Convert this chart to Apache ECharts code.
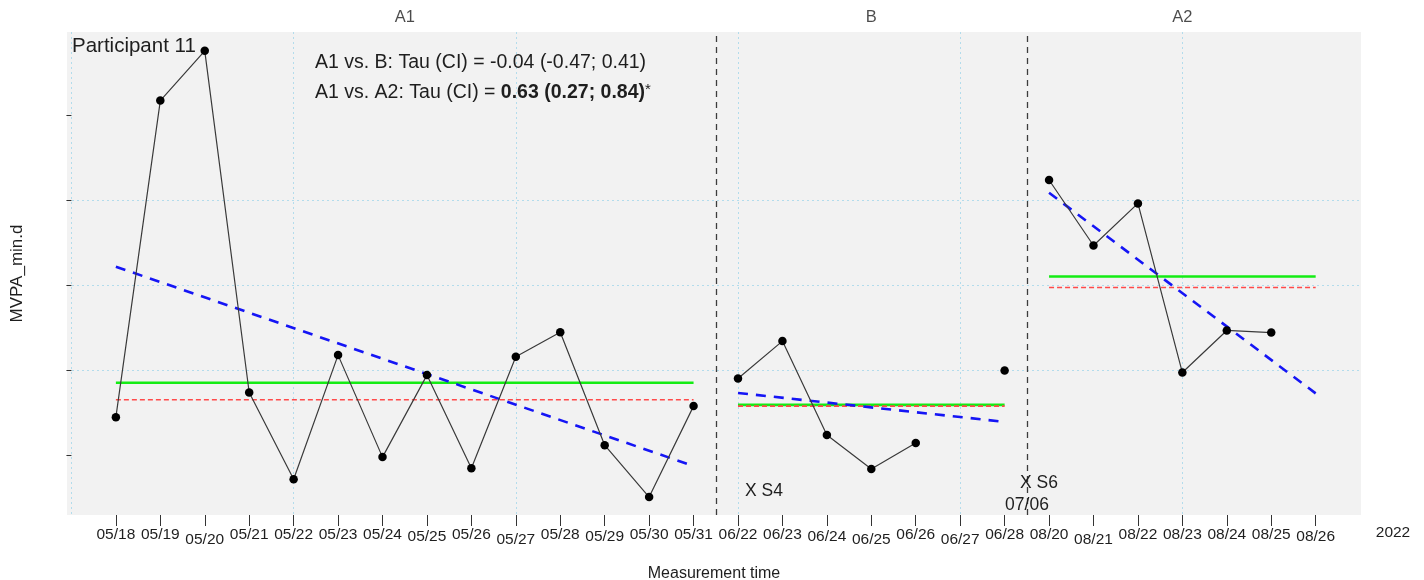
<!DOCTYPE html>
<html>
<head>
<meta charset="utf-8">
<title>Participant 11 – MVPA</title>
<script src="https://cdn.jsdelivr.net/npm/echarts@6/dist/echarts.min.js"></script>
<style>
  html, body { margin: 0; padding: 0; background: #fff; }
  #chart { width: 1424px; height: 580px; }
</style>
</head>
<body>
<div id="chart"></div>
<script>
// Measurement days per phase
const phaseNames = ['A1', 'B', 'A2'];
const datesA1 = ['05/18', '05/19', '05/20', '05/21', '05/22', '05/23', '05/24', '05/25', '05/26', '05/27', '05/28', '05/29', '05/30', '05/31'];
const datesB = ['06/22', '06/23', '06/24', '06/25', '06/26', '06/27', '06/28'];
const datesA2 = ['08/20', '08/21', '08/22', '08/23', '08/24', '08/25', '08/26'];

// MVPA minutes per day (null = no valid measurement)
const mvpaA1 = [28.9, 103.4, 115.1, 34.7, 14.3, 43.5, 19.5, 38.8, 16.9, 43.1, 48.9, 22.3, 10.1, 31.5];
const mvpaB = [38.0, 46.8, 24.7, 16.7, 22.8, null, 39.9];
const mvpaA2 = [84.7, 69.3, 79.2, 39.4, 49.3, 48.8, null];

// Phase summaries: mean level, median level, trend line end points
const meanLevel = [37.0, 31.8, 62.0];
const medianLevel = [33.0, 31.5, 59.4];
const trendStart = [64.3, 34.6, 81.7];
const trendEnd = [17.4, 27.8, 34.5];

const yTicks = [20, 40, 60, 80, 100];
const yearLabel = '2022';
const participantLabel = 'Participant 11';
const tauLine1 = 'A1 vs. B: Tau (CI) = -0.04 (-0.47; 0.41)';
const tauLine2Plain = 'A1 vs. A2: Tau (CI) = ';
const tauLine2Bold = '0.63 (0.27; 0.84)';
const tauLine2Mark = '*';
const noteS4 = 'X S4';
const noteS6 = 'X S6';
const noteS6Date = '07/06';

// ---- build positions along the x axis (1-based running index) ----
const phaseDates = [datesA1, datesB, datesA2];
const phaseValues = [mvpaA1, mvpaB, mvpaA2];
const allDates = [].concat(datesA1, datesB, datesA2);
const phaseStart = [];
let pos = 1;
phaseDates.forEach(d => { phaseStart.push(pos); pos += d.length; });
const phaseEnd = phaseDates.map((d, i) => phaseStart[i] + d.length - 1);
const boundaries = [phaseEnd[0] + 0.5, phaseEnd[1] + 0.5];
const tickPositions = allDates.map((d, i) => i + 1);

const FONT = "'Liberation Sans', Arial, Helvetica, sans-serif";
const TXT = '#1e1e1e';

// labels that sit a little lower on the date axis
const lowLabels = new Set(['05/20', '05/27', '06/25', '06/27', '08/21']);
const midLabels = new Set(['05/25', '05/29', '06/24', '08/26']);

const series = [];

// mean (green), median (red dashed), trend (blue dashed)
phaseNames.forEach((name, i) => {
  const a = phaseStart[i], b = phaseEnd[i];
  series.push({
    type: 'line', name: name + ' mean', xAxisIndex: 0, yAxisIndex: 0,
    data: [[a, meanLevel[i]], [b, meanLevel[i]]],
    symbol: 'none', silent: true, z: 2,
    lineStyle: { color: '#14ec14', width: 2.6 }
  });
  series.push({
    type: 'line', name: name + ' median', xAxisIndex: 0, yAxisIndex: 0,
    data: [[a, medianLevel[i]], [b, medianLevel[i]]],
    symbol: 'none', silent: true, z: 3,
    lineStyle: { color: '#ff4a4a', width: 1.6, type: [5, 3] }
  });
  series.push({
    type: 'line', name: name + ' trend', xAxisIndex: 0, yAxisIndex: 0,
    data: [[a, trendStart[i]], [b, trendEnd[i]]],
    symbol: 'none', silent: true, z: 4,
    lineStyle: { color: '#1515f5', width: 2.6, type: [10, 8] }
  });
});

// observed values per phase
phaseNames.forEach((name, i) => {
  const s = {
    type: 'line', name: name, xAxisIndex: 0, yAxisIndex: 0,
    data: phaseValues[i].map((v, k) => [phaseStart[i] + k, v]),
    connectNulls: false, showSymbol: true, showAllSymbol: true,
    symbol: 'circle', symbolSize: 8.5, z: 6,
    itemStyle: { color: '#000' },
    lineStyle: { color: '#3a3a3a', width: 1.2 }
  };
  if (i === 0) {
    s.markLine = {
      silent: true, symbol: 'none', label: { show: false },
      lineStyle: { color: '#3c3c3c', type: [6, 5], width: 1.3 },
      data: boundaries.map(x => ({ xAxis: x }))
    };
  }
  series.push(s);
});

// phase titles above the plot
series.push({
  type: 'scatter', name: 'phases', xAxisIndex: 0, yAxisIndex: 0,
  symbolSize: 0, clip: false, silent: true,
  data: phaseNames.map((n, i) => ({ value: [(phaseStart[i] + phaseEnd[i]) / 2, 119.53], name: n })),
  label: {
    show: true, position: 'top', distance: 6,
    formatter: p => p.name,
    fontFamily: FONT, fontSize: 16.5, color: TXT
  }
});

const option = {
  animation: false,
  backgroundColor: '#ffffff',
  grid: {
    left: 67, right: 63, top: 32, bottom: 65,
    outerBoundsMode: 'none', containLabel: false,
    show: true, backgroundColor: '#f2f2f2', borderWidth: 0
  },
  xAxis: [
    {
      type: 'value', min: -0.1, max: 29.02, position: 'bottom',
      name: 'Measurement time', nameLocation: 'middle', nameGap: 51,
      nameTextStyle: { fontFamily: FONT, fontSize: 16, color: TXT },
      axisLine: { show: false },
      axisTick: { show: true, length: 11, customValues: tickPositions, lineStyle: { color: '#333', width: 1 } },
      axisLabel: {
        show: true, margin: 12, customValues: tickPositions,
        fontFamily: FONT, fontSize: 15.5, color: TXT,
        formatter: v => {
          const d = allDates[Math.round(v) - 1] || '';
          if (lowLabels.has(d)) return '{lo|' + d + '}';
          if (midLabels.has(d)) return '{mid|' + d + '}';
          return d;
        },
        rich: {
          lo: { padding: [5, 0, 0, 0], fontFamily: FONT, fontSize: 15.5, color: TXT },
          mid: { padding: [2, 0, 0, 0], fontFamily: FONT, fontSize: 15.5, color: TXT }
        }
      },
      splitLine: { show: false }
    },
    {
      // carries the dotted vertical guides every five days
      type: 'value', min: -0.1, max: 29.02, position: 'bottom', splitNumber: 5,
      axisLine: { show: false }, axisTick: { show: false }, axisLabel: { show: false },
      splitLine: {
        show: true, showMinLine: false, showMaxLine: false,
        lineStyle: { color: '#b3dcec', width: 1, type: [2, 3] }
      }
    }
  ],
  yAxis: {
    type: 'value', min: 5.88, max: 119.53, splitNumber: 5,
    name: 'MVPA_min.d', nameLocation: 'middle', nameGap: 41, nameRotate: 90,
    nameTextStyle: { fontFamily: FONT, fontSize: 17, color: TXT },
    axisLine: { show: false },
    axisTick: { show: true, length: 5, customValues: yTicks, lineStyle: { color: '#333', width: 1 } },
    axisLabel: { show: false },
    splitLine: {
      show: true, showMinLine: false, showMaxLine: false,
      lineStyle: { color: '#b3dcec', width: 1, type: [2, 3] }
    }
  },
  graphic: [
    { type: 'text', x: 72, y: 46, z: 20, silent: true,
      style: { text: participantLabel, fontFamily: FONT, fontSize: 20.5, fill: TXT, align: 'left', verticalAlign: 'middle' } },
    { type: 'text', x: 315, y: 63, z: 20, silent: true,
      style: { text: tauLine1, fontFamily: FONT, fontSize: 19.5, fill: TXT, align: 'left', verticalAlign: 'middle' } },
    { type: 'text', x: 315, y: 93, z: 20, silent: true,
      style: {
        text: '{n|' + tauLine2Plain + '}{b|' + tauLine2Bold + '}{s|' + tauLine2Mark + '}',
        align: 'left', verticalAlign: 'middle',
        rich: {
          n: { fontFamily: FONT, fontSize: 19.5, fill: TXT },
          b: { fontFamily: FONT, fontSize: 19.5, fontWeight: 'bold', fill: TXT },
          s: { fontFamily: FONT, fontSize: 15, fill: TXT, verticalAlign: 'top', padding: [0, 0, 6, 0] }
        }
      } },
    { type: 'text', x: 764, y: 491, z: 20, silent: true,
      style: { text: noteS4, fontFamily: FONT, fontSize: 17.5, fill: TXT, align: 'center', verticalAlign: 'middle' } },
    { type: 'text', x: 1039, y: 483, z: 20, silent: true,
      style: { text: noteS6, fontFamily: FONT, fontSize: 17.5, fill: TXT, align: 'center', verticalAlign: 'middle' } },
    { type: 'text', x: 1027, y: 505, z: 20, silent: true,
      style: { text: noteS6Date, fontFamily: FONT, fontSize: 17.5, fill: TXT, align: 'center', verticalAlign: 'middle' } },
    { type: 'text', x: 1393, y: 533, z: 20, silent: true,
      style: { text: yearLabel, fontFamily: FONT, fontSize: 15.5, fill: TXT, align: 'center', verticalAlign: 'middle' } }
  ],
  series: series
};

const chart = echarts.init(document.getElementById('chart'), null, { renderer: 'canvas' });
chart.setOption(option);
</script>
</body>
</html>
